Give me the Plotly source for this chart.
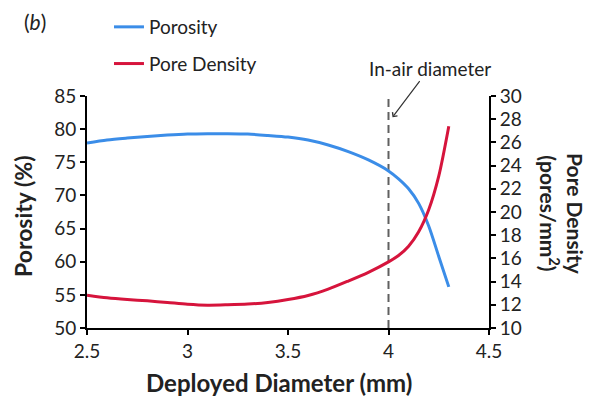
import plotly.graph_objects as go

# ---- data ----
diam_porosity = [2.5, 2.6, 2.7, 2.8, 2.9, 3.0, 3.1, 3.2, 3.3, 3.4, 3.5, 3.6, 3.7, 3.8, 3.9,
                 4.0, 4.05, 4.1, 4.15, 4.2, 4.25, 4.3]
porosity = [77.9, 78.35, 78.65, 78.9, 79.1, 79.25, 79.3, 79.3, 79.25, 79.05, 78.8, 78.35, 77.6,
            76.6, 75.35, 73.7, 72.5, 71.0, 68.8, 65.4, 60.8, 56.2]

diam_density = [2.5, 2.6, 2.7, 2.8, 2.9, 3.0, 3.1, 3.2, 3.3, 3.4, 3.5, 3.6, 3.7, 3.8, 3.9,
                4.0, 4.05, 4.1, 4.15, 4.2, 4.25, 4.3]
pore_density = [12.83, 12.6, 12.45, 12.34, 12.2, 12.05, 11.97, 12.0, 12.06, 12.2, 12.45, 12.8,
                13.35, 14.05, 14.8, 15.7, 16.25, 17.05, 18.3, 20.2, 23.1, 27.4]

in_air_diameter = 4.0
x_ticks = [2.5, 3, 3.5, 4, 4.5]
x_tick_labels = ["2.5", "3", "3.5", "4", "4.5"]
y_left_ticks = [50, 55, 60, 65, 70, 75, 80, 85]
y_right_ticks = [10, 12, 14, 16, 18, 20, 22, 24, 26, 28, 30]

FONT = "Lato"
BLUE = "#3b8de8"
RED = "#d6143c"
TXT = "#222"

fig = go.Figure()
fig.add_trace(go.Scatter(x=diam_porosity, y=porosity, name="Porosity", mode="lines",
                         line=dict(color=BLUE, width=3, shape="spline", smoothing=0.8),
                         legendgroup="a", yaxis="y"))
fig.add_trace(go.Scatter(x=diam_density, y=pore_density, name="Pore Density", mode="lines",
                         line=dict(color=RED, width=3, shape="spline", smoothing=0.8),
                         legendgroup="b", yaxis="y2"))

fig.add_shape(type="line", xref="x", yref="paper", x0=in_air_diameter, x1=in_air_diameter,
              y0=0, y1=1, line=dict(color="#606060", width=2, dash="8px,5px"), layer="below")

axis_common = dict(showline=True, linecolor="black", linewidth=2, ticks="outside",
                   ticklen=5, tickwidth=2, tickcolor="black", showgrid=False, zeroline=False,
                   tickfont=dict(family=FONT, size=19, color=TXT), automargin=False)

fig.update_layout(
    width=585, height=390,
    margin=dict(l=79, r=104, t=88, b=70, autoexpand=False),
    paper_bgcolor="white", plot_bgcolor="white",
    font=dict(family=FONT, color=TXT),
    xaxis=dict(range=[2.5, 4.5], tickvals=x_ticks, ticktext=x_tick_labels, **axis_common),
    yaxis=dict(range=[50, 85], tickvals=y_left_ticks, **axis_common),
    yaxis2=dict(range=[10, 30], tickvals=y_right_ticks, overlaying="y", side="right",
                **axis_common),
    showlegend=True,
    legend=dict(xref="container", yref="container", x=0.1726, y=1.0, xanchor="left", yanchor="top",
                font=dict(family=FONT, size=19, color=TXT), tracegroupgap=9,
                bgcolor="rgba(0,0,0,0)"),
)

# axis titles
fig.add_annotation(xref="paper", yref="paper", x=0.4776, y=-0.2328, xanchor="center", yanchor="middle",
                   text="<b>Deployed Diameter (mm)</b>", showarrow=False,
                   font=dict(family=FONT, size=24, color=TXT))
fig.add_annotation(xref="paper", yref="paper", x=-0.159, y=0.483, xanchor="center", yanchor="middle",
                   textangle=-90, text="<b>Porosity (%)</b>", showarrow=False,
                   font=dict(family=FONT, size=23, color=TXT))
fig.add_annotation(xref="paper", yref="paper", x=1.1816, y=0.491, xanchor="center", yanchor="middle",
                   textangle=90, text="<b>Pore Density<br>(pores/mm<sup>2</sup>)</b>", showarrow=False,
                   font=dict(family=FONT, size=21, color=TXT))

fig.add_annotation(xref="paper", yref="paper", x=-0.1294, y=1.319, xanchor="center", yanchor="middle",
                   text="(<i>b</i>)", showarrow=False, font=dict(family=FONT, size=21, color=TXT))
fig.add_annotation(x=in_air_diameter + 0.02, y=81.8, xref="x", yref="y",
                   text="In-air diameter", showarrow=True, ax=37, ay=-49,
                   arrowhead=4, arrowsize=1, arrowwidth=1.2, arrowcolor="#333",
                   font=dict(family=FONT, size=19, color=TXT))

fig.write_html("out.html")
